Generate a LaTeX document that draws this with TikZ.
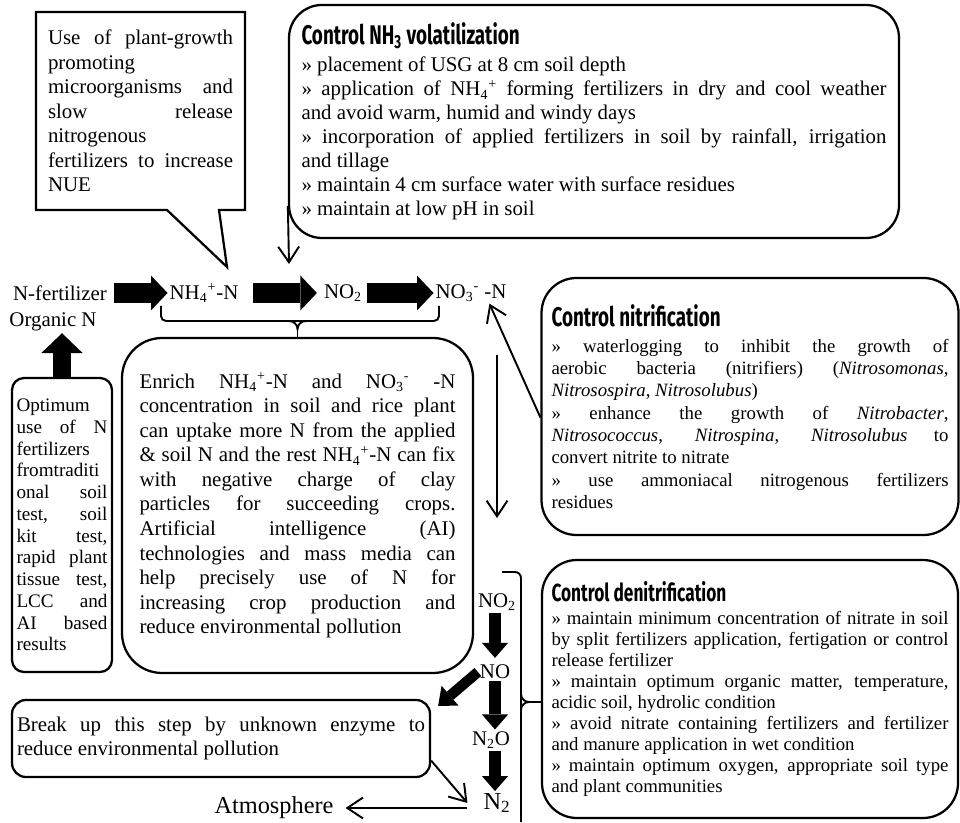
\documentclass[tikz,border=0pt]{standalone}
\usepackage{fontspec}
\setmainfont{Liberation Serif}
\newfontfamily\headfont[FakeStretch=0.7]{Fira Sans}
\usetikzlibrary{arrows.meta, positioning, shapes.callouts}
\newlength\pxu
\setlength\pxu{0.575pt}
\setlength\parindent{0pt}
\tolerance=9999
\hyphenpenalty=10000
\newcommand\nhfour{NH\textsubscript{4}\textsuperscript{+}}
\newcommand\nothree{NO\textsubscript{3}\textsuperscript{-}}

\begin{document}
\begin{tikzpicture}[x=\pxu, y=-\pxu,
    box/.style={draw, line width=1.3pt, align=justify, inner sep=0pt},
    chem/.style={inner sep=1pt, font=\fontsize{12}{14}\selectfont},
    thinarrow/.style={line width=1.1pt, -{Straight Barb[length=9pt, width=12pt]}},
    fatarrow/.style={line width=11.5pt, -{Triangle[length=9.5pt, width=20pt, line width=0pt]}},
    fatdown/.style={line width=7pt, -{Triangle[length=8.6pt, width=15pt, line width=0pt]}},
    fatup/.style={line width=10.5pt, -{Triangle[length=11.5pt, width=24pt, line width=0pt]}},
    fatdiag/.style={line width=6pt, -{Triangle[length=9pt, width=15pt, line width=0pt]}}]
  \useasboundingbox (0,0) rectangle (960,823);

  % nitrogen chain
  \node[chem] (nfert) at (60,293) {N-fertilizer};
  \node[chem] (nhfour) at (204,293) {\nhfour-N};
  \node[chem] (notwo) at (343,293) {NO\textsubscript{2}};
  \node[chem] (nothree) at (471,293) {\nothree{} -N};
  \node[chem] (orgn) at (53,322) {Organic N};
  \draw[fatarrow, shorten <=5\pxu] (nfert) -- (nhfour);
  \draw[fatarrow, shorten <=13\pxu, shorten >=5\pxu] (nhfour) -- (notwo);
  \draw[fatarrow, shorten <=3\pxu] (notwo) -- (nothree);

  % callout on the left
  \coordinate (ptip) at (227,267);
  \node[box, rectangle callout, callout absolute pointer={(ptip)}, callout pointer width=52\pxu,
        text width=185\pxu, minimum width=209\pxu, minimum height=198\pxu,
        font=\fontsize{12}{14.1}\selectfont] (usebox) at (140.5,111)
    {Use of plant-growth\linebreak
     promoting\newline
     microorganisms and\linebreak
     slow release\linebreak
     nitrogenous\newline
     fertilizers to increase\linebreak
     NUE};

  % NH3 volatilization
  \node[box, rounded corners=33\pxu, text width=585\pxu, minimum width=610\pxu, minimum height=233\pxu,
        font=\fontsize{12}{13.8}\selectfont] (nhbox) at (594,121.5)
    {{\headfont\bfseries\fontsize{15.5}{16}\selectfont Control NH\textsubscript{3} volatilization\par}\vspace{2pt}
     » placement of USG at 8 cm soil depth\newline
     » application of \nhfour{} forming fertilizers in dry and cool weather\linebreak
     and avoid warm, humid and windy days\newline
     » incorporation of applied fertilizers in soil by rainfall, irrigation\linebreak
     and tillage\newline
     » maintain 4 cm surface water with surface residues\newline
     » maintain at low pH in soil};
  \coordinate (nhtip) at (289,264);
  \draw[thinarrow] ([yshift=33\pxu]nhbox.south west) -- (nhtip);

  % enrich box and brace
  \node[box, rounded corners=40\pxu, text width=316\pxu, minimum width=351\pxu, minimum height=335\pxu,
        font=\fontsize{12}{14.1}\selectfont] (cbox) at (297.5,505.5)
    {Enrich \nhfour-N and \nothree{} -N\linebreak
     concentration in soil and rice plant\linebreak
     can uptake more N from the applied\linebreak
     \& soil N and the rest \nhfour-N can fix\linebreak
     with negative charge of clay\linebreak
     particles for succeeding crops.\linebreak
     Artificial intelligence (AI)\linebreak
     technologies and mass media can\linebreak
     help precisely use of N for\linebreak
     increasing crop production and\linebreak
     reduce environmental pollution};
  \draw[line width=1.1pt, rounded corners=5\pxu] (161,306) |- (439,321) -- (439,306);
  \draw[line width=1.1pt] (289,321) to[out=0,in=90] (297.5,329) to[out=90,in=180] (306,321);
  \draw[line width=1.1pt] (297.5,329) -- (cbox.north);

  % soil test box
  \node[box, rounded corners=12\pxu, text width=91\pxu, minimum width=100\pxu, minimum height=294\pxu,
        font=\fontsize{11}{12.5}\selectfont] (optbox) at (62,525)
    {Optimum\newline
     use of N\linebreak
     fertilizers\newline
     fromtraditi\newline
     onal soil\linebreak
     test, soil\linebreak
     kit test,\linebreak
     rapid plant\linebreak
     tissue test,\linebreak
     LCC and\linebreak
     AI based\linebreak
     results};
  \draw[fatup] (optbox.north) -- (optbox.north |- orgn.south);

  % nitrification
  \node[box, rounded corners=35\pxu, text width=397\pxu, minimum width=417\pxu, minimum height=257\pxu,
        font=\fontsize{10.8}{12.85}\selectfont] (nitbox) at (750,406.5)
    {{\headfont\bfseries\fontsize{15.5}{16}\selectfont Control nitrification\par}\vspace{2pt}
     » waterlogging to inhibit the growth of\linebreak
     aerobic bacteria (nitrifiers) (\textit{Nitrosomonas},\linebreak
     \textit{Nitrosospira}, \textit{Nitrosolubus})\newline
     » enhance the growth of \textit{Nitrobacter},\linebreak
     \textit{Nitrosococcus}, \textit{Nitrospina}, \textit{Nitrosolubus} to\linebreak
     convert nitrite to nitrate\newline
     » use ammoniacal nitrogenous fertilizers\linebreak
     residues\par\vspace{6pt}};
  \draw[thinarrow] (nitbox.183) -- (nothree.-30);
  \coordinate (vtop) at (497,355);
  \coordinate (vbot) at (497,518);
  \draw[thinarrow] (vtop) -- (vbot);

  % denitrification
  \node[box, rounded corners=35\pxu, text width=397\pxu, minimum width=416\pxu, minimum height=258\pxu,
        font=\fontsize{10.8}{12.1}\selectfont] (denbox) at (750,689)
    {{\headfont\bfseries\fontsize{14.2}{15}\selectfont Control denitrification\par}\vspace{1pt}
     » maintain minimum concentration of nitrate in soil\linebreak
     by split fertilizers application, fertigation or control\linebreak
     release fertilizer\newline
     » maintain optimum organic matter, temperature,\linebreak
     acidic soil, hydrolic condition\newline
     » avoid nitrate containing fertilizers and fertilizer\linebreak
     and manure application in wet condition\newline
     » maintain optimum oxygen, appropriate soil type\linebreak
     and plant communities};
  \draw[line width=1.1pt, rounded corners=6\pxu] (502,572) -| (521,822);
  \draw[line width=1.1pt] (521,694) to[out=-90,in=180] (529,702) to[out=180,in=90] (521,710);
  \draw[line width=1.1pt] (529,702) -- (denbox.west |- 0,702);

  % denitrification steps
  \node[chem] (dnotwo) at (497,602) {NO\textsubscript{2}};
  \node[chem] (dno) at (495,672) {NO};
  \node[chem] (dntwoo) at (491,740) {N\textsubscript{2}O};
  \node[chem, font=\fontsize{14}{16}\selectfont] (dntwo) at (497,803) {N\textsubscript{2}};
  \draw[fatdown, shorten >=5\pxu] (dno.north |- dnotwo.south) -- (dno.north);
  \draw[fatdown] (dno.south) -- (dno.south |- dntwoo.north);
  \draw[fatdown] (dno.south |- dntwoo.south) -- (dno.south |- dntwo.north);

  % break up box
  \node[box, rounded corners=14\pxu, text width=408\pxu, minimum width=418\pxu, minimum height=77\pxu,
        font=\fontsize{12}{13.8}\selectfont] (brkbox) at (221,738.5)
    {Break up this step by unknown enzyme to\linebreak
     reduce environmental pollution};
  \draw[fatdiag] (dno.west) -- ([xshift=7\pxu, yshift=-7\pxu]brkbox.north east);
  \draw[thinarrow] (brkbox.-6) -- ([xshift=-14\pxu]dntwo.west);

  % atmosphere
  \node[inner sep=1pt, font=\fontsize{14}{16}\selectfont] (atmos) at (274,808) {Atmosphere};
  \draw[thinarrow, shorten <=14\pxu, shorten >=10\pxu] (dntwo.west |- atmos.east) -- (atmos.east);
\end{tikzpicture}
\end{document}
